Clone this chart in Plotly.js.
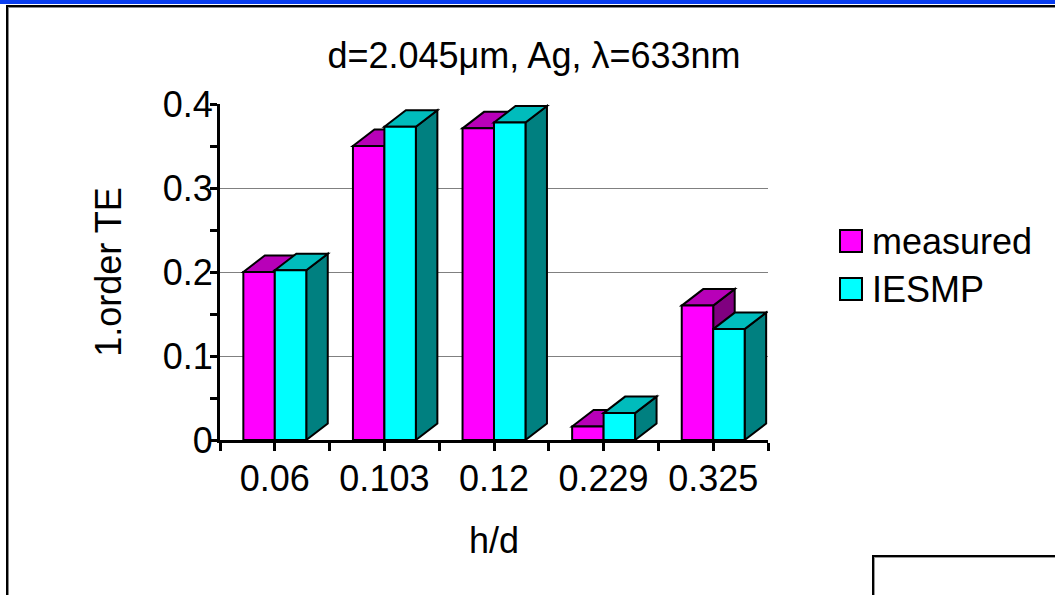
<!DOCTYPE html>
<html>
<head>
<meta charset="utf-8">
<script src="https://cdn.plot.ly/plotly-3.0.1.min.js"></script>
<style>
  html, body { margin: 0; padding: 0; background: #fff; }
  #page { position: relative; width: 1055px; height: 595px; overflow: hidden; }
  #topband { position: absolute; left: 0; top: 0; width: 1055px; height: 4px; background: #0a3ef0; }
  #frame { position: absolute; left: 6px; top: 5px; width: 1100px; height: 700px;
           border-left: 2px solid #000; border-top: 2px solid #000; box-shadow: inset 1px 1px 0 #888; }
  #notebox { position: absolute; left: 872px; top: 555px; width: 300px; height: 100px;
             border-left: 2px solid #000; border-top: 2px solid #000; box-shadow: inset 1px 1px 0 #999; }
  #chart { position: absolute; left: 0; top: 0; width: 1055px; height: 595px; }
</style>
</head>
<body>
<div id="page">
  <div id="topband"></div>
  <div id="frame"></div>
  <div id="notebox"></div>
  <div id="chart"></div>
</div>
<script>
// h/d ratios of the gratings and first-order TE efficiency
const categories = ['0.06', '0.103', '0.12', '0.229', '0.325'];
const measured   = [0.200, 0.350, 0.371, 0.016, 0.160];
const iesmp      = [0.202, 0.373, 0.378, 0.032, 0.132];
const seriesNames = ['measured', 'IESMP'];
const yTicks = [0, 0.1, 0.2, 0.3, 0.4];

// page geometry (pixels)
const W = 1055, H = 595;
const M = { l: 220, r: 287, t: 104, b: 155 };
const plotW = W - M.l - M.r, plotH = H - M.t - M.b;
const xRange = [-0.5, categories.length - 0.5];
const yRange = [0, 0.4];

// 3-D look: bar face width and depth offset
const barW = 0.287;
const depthXpx = 21.5, depthYpx = 16.5;
const dx = depthXpx * (xRange[1] - xRange[0]) / plotW;
const dy = depthYpx * (yRange[1] - yRange[0]) / plotH;

const FONT = 'Liberation Sans, Arial, sans-serif';
const FS = 36;
const styles = [
  { front: '#ff00ff', top: '#b800b8', side: '#800080', offset: -barW },
  { front: '#00ffff', top: '#00bcbc', side: '#008080', offset: 0 }
];
const series = [measured, iesmp];
const xIdx = categories.map((c, i) => i);

const traces = series.map((vals, s) => ({
  type: 'bar',
  name: seriesNames[s],
  x: xIdx,
  y: vals,
  width: barW,
  offset: styles[s].offset,
  marker: { color: styles[s].front, line: { color: '#000', width: 2 } },
  showlegend: false,
  hoverinfo: 'skip'
}));

// top and side faces of each bar, drawn behind the front faces
const shapes = [];
xIdx.forEach(i => {
  series.forEach((vals, s) => {
    const v = vals[i];
    const x0 = i + styles[s].offset, x1 = x0 + barW;
    shapes.push({
      type: 'path', xref: 'x', yref: 'y', layer: 'between',
      path: `M${x1},0 L${x1 + dx},${dy} L${x1 + dx},${v + dy} L${x1},${v} Z`,
      fillcolor: styles[s].side, line: { color: '#000', width: 2 }
    });
    shapes.push({
      type: 'path', xref: 'x', yref: 'y', layer: 'between',
      path: `M${x0},${v} L${x0 + dx},${v + dy} L${x1 + dx},${v + dy} L${x1},${v} Z`,
      fillcolor: styles[s].top, line: { color: '#000', width: 2 }
    });
  });
});

// legend drawn by hand so the swatches can be large
const px = x => (x - M.l) / plotW;
const py = y => (H - M.b - y) / plotH;
const annotations = [];
const legendTop = [230, 278], sw = 22, legX = 840;
seriesNames.forEach((name, s) => {
  shapes.push({
    type: 'rect', xref: 'paper', yref: 'paper', layer: 'above',
    x0: px(legX), x1: px(legX + sw), y0: py(legendTop[s] + sw), y1: py(legendTop[s]),
    fillcolor: styles[s].front, line: { color: '#000', width: 2 }
  });
  annotations.push({
    xref: 'paper', yref: 'paper', x: px(legX + sw + 8), y: py(legendTop[s] + sw / 2),
    xanchor: 'left', yanchor: 'middle', showarrow: false, text: name,
    font: { family: FONT, size: FS, color: '#000' }
  });
});

// ticks at every category centre and every category boundary
const xTickVals = [], xTickText = [];
for (let k = 0; k <= 2 * categories.length; k++) {
  const v = xRange[0] + k * 0.5;
  xTickVals.push(v);
  xTickText.push(Number.isInteger(v) ? categories[v] : '');
}

const layout = {
  width: W, height: H,
  margin: M,
  paper_bgcolor: 'rgba(0,0,0,0)',
  plot_bgcolor: 'rgba(0,0,0,0)',
  barmode: 'overlay',
  font: { family: FONT, color: '#000' },
  title: {
    text: 'd=2.045\u03bcm, Ag, \u03bb=633nm',
    font: { family: FONT, size: FS, color: '#000' },
    xref: 'container', yref: 'container',
    x: 534 / W, xanchor: 'center', y: 1 - 55 / H, yanchor: 'middle'
  },
  xaxis: {
    range: xRange, tickmode: 'array', tickvals: xTickVals, ticktext: xTickText,
    ticks: 'outside', ticklen: 8, tickwidth: 3, tickcolor: '#000',
    ticklabelstandoff: -3,
    showline: true, linewidth: 3, linecolor: '#000',
    showgrid: false, zeroline: false, fixedrange: true,
    tickfont: { family: FONT, size: FS, color: '#000' },
    title: { text: 'h/d', font: { family: FONT, size: FS, color: '#000' }, standoff: 30 }
  },
  yaxis: {
    range: yRange, tickmode: 'array', tickvals: yTicks, ticktext: yTicks.map(String),
    ticks: 'outside', ticklen: 7, tickwidth: 3, tickcolor: '#000',
    ticklabelstandoff: -10,
    minor: { tickmode: 'array', tickvals: [0.05, 0.15, 0.25, 0.35], ticks: 'outside',
             ticklen: 7, tickwidth: 3, tickcolor: '#000', showgrid: false },
    showline: true, linewidth: 3, linecolor: '#000',
    showgrid: true, gridcolor: '#808080', gridwidth: 1,
    zeroline: false, fixedrange: true,
    tickfont: { family: FONT, size: FS, color: '#000' },
    title: { text: '1.order TE', font: { family: FONT, size: FS, color: '#000' }, standoff: 31 }
  },
  shapes: shapes,
  annotations: annotations,
  showlegend: false
};

Plotly.newPlot('chart', traces, layout, { staticPlot: true, displayModeBar: false });
</script>
</body>
</html>
